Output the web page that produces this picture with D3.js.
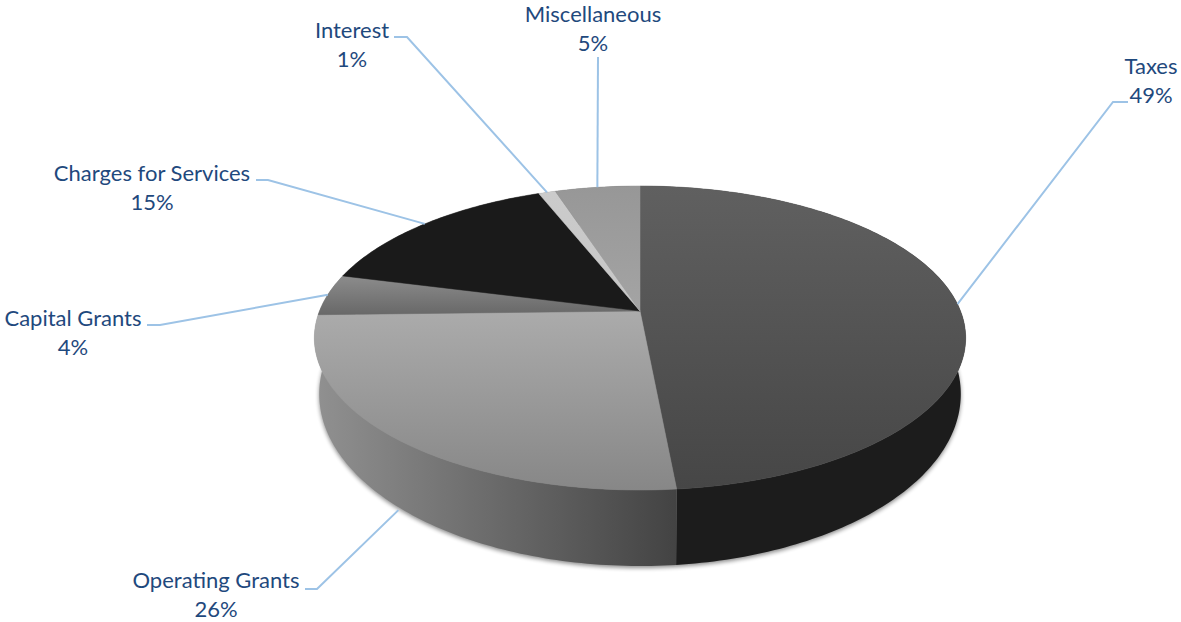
<!DOCTYPE html>
<html>
<head>
<meta charset="utf-8">
<style>
  body { margin: 0; background: #fff; }
  text { font-family: Lato, "Open Sans", sans-serif; font-size: 22px; fill: #1f497d; text-anchor: middle; }
</style>
</head>
<body>
<svg id="chart" width="1181" height="622"></svg>
<script src="https://cdnjs.cloudflare.com/ajax/libs/d3/7.8.5/d3.min.js"></script>
<script>
// Values
const categories = ['Taxes', 'Operating Grants', 'Capital Grants', 'Charges for Services', 'Interest', 'Miscellaneous'];
const shares = [48.5, 26.1, 4.4, 15, 1, 5];

// Pie geometry: the tilted disc is a circle seen in perspective
const cx = 640, cy = 311;
const flatX = 320.5, flatY = 147.2, tilt = 0.1776;
const discCentreY = 338, discRadiusY = 152;
const lowerCentreY = 394, lowerRadiusY = 172, shrink = 0.985;

// Label layout: text centre, first line baseline, elbow of the leader, end of the leader
const labelLayout = [
    { x: 1151, y: 74, elbowX: 1113, elbowY: 102, endX: 1128 },
    { x: 216, y: 588, elbowX: 317, elbowY: 589, endX: 305 },
    { x: 73, y: 326, elbowX: 160, elbowY: 325, endX: 147 },
    { x: 152, y: 181, elbowX: 268, elbowY: 180, endX: 256 },
    { x: 352, y: 38, elbowX: 407, elbowY: 37, endX: 394 },
    { x: 593, y: 22, elbowX: 598, elbowY: 57, endX: 598 }
];

const topFills = [
    ['#606060', '#464646'],
    ['#ababab', '#878787'],
    ['#8c8c8c', '#686868'],
    ['#1a1a1a', '#1a1a1a'],
    ['#cbcbcb', '#c6c6c6'],
    ['#979797', '#a4a4a4']
];

// Project an angle of the pie onto the rim of the top face
function rim(angle) {
    const u = Math.sin(angle), v = -Math.cos(angle);
    const w = 1 - tilt * v;
    return [cx + flatX * u / w, cy + flatY * v / w];
}

// Same angle on the lower edge of the wall
function lowerRim(angle) {
    const p = rim(angle);
    return [cx + (p[0] - cx) * shrink, lowerCentreY + (p[1] - discCentreY) * lowerRadiusY / discRadiusY];
}

function arcAngles(start, end) {
    const n = Math.max(2, Math.ceil((end - start) * 60));
    return d3.range(n + 1).map(i => start + (end - start) * i / n);
}

const svg = d3.select('#chart');
const defs = svg.append('defs');
const line = d3.line();
const slices = d3.pie().sort(null)(shares);

// Vertical gradients for the top face
slices.forEach(function (s, i) {
    const ys = arcAngles(s.startAngle, s.endAngle).map(a => rim(a)[1]).concat(cy);
    const g = defs.append('linearGradient')
        .attr('id', 'top' + i)
        .attr('gradientUnits', 'userSpaceOnUse')
        .attr('x1', 0).attr('x2', 0)
        .attr('y1', d3.min(ys)).attr('y2', d3.max(ys));
    g.append('stop').attr('offset', 0).attr('stop-color', topFills[i][0]);
    g.append('stop').attr('offset', 1).attr('stop-color', topFills[i][1]);
});

// Horizontal gradient for the wall of the second slice
const wallGrad = defs.append('linearGradient')
    .attr('id', 'wallGrey')
    .attr('gradientUnits', 'userSpaceOnUse')
    .attr('x1', 318).attr('x2', 677).attr('y1', 0).attr('y2', 0);
wallGrad.append('stop').attr('offset', 0).attr('stop-color', '#909090');
wallGrad.append('stop').attr('offset', 1).attr('stop-color', '#434343');

const blur = defs.append('filter').attr('id', 'soft')
    .attr('x', '-5%').attr('y', '-5%').attr('width', '110%').attr('height', '110%');
blur.append('feGaussianBlur').attr('stdDeviation', 2.2);

// Soft shadow under the disc
svg.append('path')
    .attr('d', line(arcAngles(0, 2 * Math.PI).map(lowerRim)) + 'Z')
    .attr('transform', 'translate(0,2)')
    .attr('fill', '#000')
    .attr('opacity', 0.45)
    .attr('filter', 'url(#soft)');

// Walls
slices.forEach(function (s, i) {
    const angles = arcAngles(s.startAngle, s.endAngle);
    const pts = angles.map(rim).concat(angles.slice().reverse().map(lowerRim));
    svg.append('path')
        .attr('d', line(pts) + 'Z')
        .attr('fill', i === 0 ? '#1c1c1c' : 'url(#wallGrey)');
});

// Top faces
slices.forEach(function (s, i) {
    const pts = [[cx, cy]].concat(arcAngles(s.startAngle, s.endAngle).map(rim));
    svg.append('path')
        .attr('d', line(pts) + 'Z')
        .attr('fill', 'url(#top' + i + ')')
        .attr('stroke', 'url(#top' + i + ')')
        .attr('stroke-width', 0.5);
});

// Leaders and labels
slices.forEach(function (s, i) {
    const mid = (s.startAngle + s.endAngle) / 2;
    // the leader of the second slice lands on the wall, not on the top face
    const anchor = i === 1 ? [lowerRim(mid)[0], lowerRim(mid)[1] + 3] : rim(mid);
    const l = labelLayout[i];
    svg.append('path')
        .attr('d', line([anchor, [l.elbowX, l.elbowY], [l.endX, l.elbowY]]))
        .attr('fill', 'none')
        .attr('stroke', '#9dc3e6')
        .attr('stroke-width', 2);

    svg.append('text').attr('x', l.x).attr('y', l.y).text(categories[i]);
    svg.append('text').attr('x', l.x).attr('y', l.y + 29).text(Math.round(s.value) + '%');
});
</script>
</body>
</html>
